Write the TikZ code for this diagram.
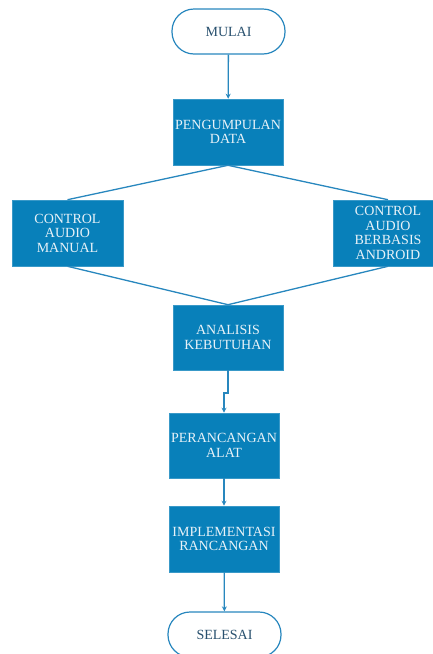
\documentclass[tikz,border=0pt]{standalone}
\usepackage{fontspec}
\setmainfont{Liberation Serif}
\usetikzlibrary{arrows.meta}
\definecolor{boxblue}{RGB}{8,128,186}
\definecolor{lineblue}{RGB}{40,135,190}
\definecolor{termtxt}{RGB}{40,80,110}
\definecolor{boxtxt}{RGB}{232,242,248}
\tikzset{
  procbox/.style={rectangle, fill=boxblue, draw=boxblue!80!white, line width=0.6pt,
    minimum width=110pt, minimum height=66pt, inner sep=1pt, align=center,
    text=boxtxt, font=\fontsize{14}{14.5}\selectfont},
  term/.style={rectangle, rounded corners=22pt, draw=lineblue, line width=1.2pt, fill=white,
    minimum width=113pt, minimum height=45pt, text=termtxt, font=\fontsize{14}{14.5}\selectfont},
  conn/.style={draw=lineblue, line width=1.3pt},
  arr/.style={conn, -{Stealth[length=5pt,width=5pt]}}
}
\begin{document}
\begin{tikzpicture}[x=1pt,y=-1pt]
\useasboundingbox (0,0) rectangle (433,654);
\node[term] (start) at (228.5,31.5) {MULAI};
\node[procbox] (pd) at (228,132) {PENGUMPULAN\\DATA};
\node[procbox, minimum width=111pt] (cam) at (67.5,233) {CONTROL\\AUDIO\\MANUAL};
\node[procbox] (caa) at (388,233) {CONTROL\\AUDIO\\BERBASIS\\ANDROID};
\node[procbox, minimum height=65pt] (ak) at (228,337.5) {ANALISIS\\KEBUTUHAN};
\node[procbox, minimum height=65pt] (pa) at (224,445.5) {PERANCANGAN\\ALAT};
\node[procbox] (ir) at (224,539) {IMPLEMENTASI\\RANCANGAN};
\node[term] (end) at (224.5,634.5) {SELESAI};
\coordinate (j1) at (228,393);
\coordinate (j2) at (224,393);
\draw[arr] (start) -- (pd);
\draw[conn] (pd.south) -- (cam.north);
\draw[conn] (pd.south) -- (caa.north);
\draw[conn] (cam.south) -- (ak.north);
\draw[conn] (caa.south) -- (ak.north);
\draw[arr] (ak.south) -- (j1) -- (j2) -- (pa.north);
\draw[arr] (pa) -- (ir);
\draw[arr] (ir) -- (end);
\end{tikzpicture}
\end{document}
